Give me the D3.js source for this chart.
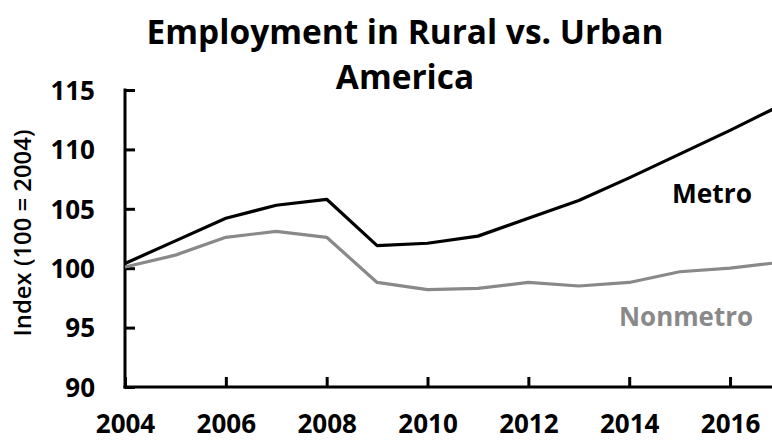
<!DOCTYPE html>
<html>
<head>
<meta charset="utf-8">
<script src="https://cdn.jsdelivr.net/npm/d3@7"></script>
<style>
  html, body { margin: 0; padding: 0; background: #fff; }
  svg { display: block; }
  text { font-family: "Open Sans", "DejaVu Sans", sans-serif; }
</style>
</head>
<body>
<svg id="chart" width="772" height="442"></svg>
<script>
const years = [2004, 2005, 2006, 2007, 2008, 2009, 2010, 2011, 2012, 2013, 2014, 2015, 2016, 2017];
const metro = [100.4, 102.3, 104.2, 105.3, 105.8, 101.9, 102.1, 102.7, 104.2, 105.7, 107.6, 109.6, 111.6, 113.7];
const nonmetro = [100.1, 101.1, 102.6, 103.1, 102.6, 98.8, 98.2, 98.3, 98.8, 98.5, 98.8, 99.7, 100.0, 100.5];
const xTicks = [2004, 2006, 2008, 2010, 2012, 2014, 2016];
const yTicks = [90, 95, 100, 105, 110, 115];
const titleLines = ["Employment in Rural vs. Urban", "America"];
const yLabel = "Index (100 = 2004)";
const seriesLabels = ["Metro", "Nonmetro"];

(function () {
const svg = d3.select("#chart");
const W = 772, H = 442;
const pLeft = 125, pTop = 90, pBottom = 387;
const pxPerYear = 50.42;

const x = d3.scaleLinear().domain([2004, 2017]).range([pLeft, pLeft + 13 * pxPerYear]);
const y = d3.scaleLinear().domain([90, 115]).range([pBottom, pTop]);

function fit(sel, target) {
  sel.attr("font-size", 100);
  const w = sel.node().getComputedTextLength();
  sel.attr("font-size", 100 * target / w);
  return sel;
}

// Title
const t1 = svg.append("text").attr("x", 405).attr("y", 44).attr("text-anchor", "middle")
  .attr("font-weight", 700).attr("fill", "#000").text(titleLines[0]);
fit(t1, 517);
const tSize = t1.attr("font-size");
svg.append("text").attr("x", 405).attr("y", 89).attr("text-anchor", "middle")
  .attr("font-weight", 700).attr("fill", "#000").attr("font-size", tSize).text(titleLines[1]);

// Y axis
const yAxis = d3.axisLeft(y).tickValues(yTicks).tickSizeInner(-10).tickSizeOuter(0).tickPadding(30)
  .tickFormat(d3.format("d"));
const gy = svg.append("g").attr("transform", `translate(${pLeft},0)`).call(yAxis);
gy.selectAll("path, line").attr("stroke", "#000").attr("stroke-width", 3);
gy.select("path").attr("d", `M0,${pTop - 1.5}V${pBottom + 1.5}`);
gy.selectAll("text").attr("font-size", 26).attr("font-weight", 700).attr("fill", "#000")
  .attr("font-family", '"Open Sans", sans-serif').attr("dy", "0.36em");

// X axis
const xAxis = d3.axisBottom(x).tickValues(xTicks).tickSizeInner(-10).tickSizeOuter(0).tickPadding(28)
  .tickFormat(d3.format("d"));
const gx = svg.append("g").attr("transform", `translate(0,${pBottom})`).call(xAxis);
gx.selectAll("path, line").attr("stroke", "#000").attr("stroke-width", 3);
gx.select("path").attr("d", `M${pLeft - 1.5},0H${W + 20}`);
gx.selectAll("text").attr("font-size", 26).attr("font-weight", 700).attr("fill", "#000")
  .attr("font-family", '"Open Sans", sans-serif');

// Y label
const yl = svg.append("text").attr("transform", `translate(31,233) rotate(-90)`)
  .attr("text-anchor", "middle").attr("font-weight", 600).attr("fill", "#000").text(yLabel);
fit(yl, 207);

// Lines
const line = d3.line().x((d, i) => x(years[i])).y(d => y(d));
svg.append("path").datum(nonmetro).attr("d", line).attr("fill", "none")
  .attr("stroke", "#898989").attr("stroke-width", 3.2).attr("stroke-linejoin", "round");
svg.append("path").datum(metro).attr("d", line).attr("fill", "none")
  .attr("stroke", "#000").attr("stroke-width", 3.2).attr("stroke-linejoin", "round");

// Series labels
const ml = svg.append("text").attr("x", 712).attr("y", 203).attr("text-anchor", "middle")
  .attr("font-weight", 700).attr("fill", "#000").text(seriesLabels[0]);
fit(ml, 80);
const nl = svg.append("text").attr("x", 686).attr("y", 326).attr("text-anchor", "middle")
  .attr("font-weight", 700).attr("fill", "#898989").text(seriesLabels[1]);
fit(nl, 134);
})();
</script>
</body>
</html>
